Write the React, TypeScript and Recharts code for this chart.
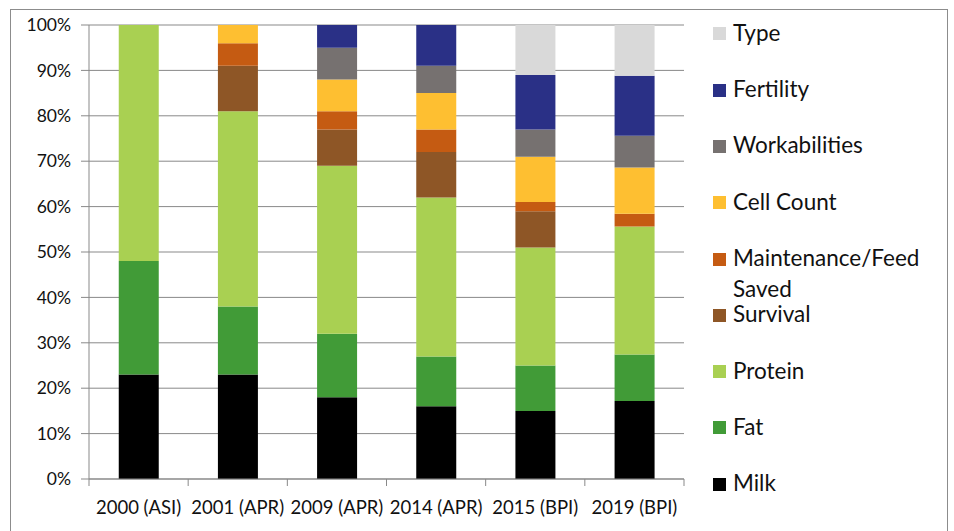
import React from "react";
import { BarChart, Bar, XAxis, YAxis, CartesianGrid } from "recharts";

const categories = ["2000 (ASI)", "2001 (APR)", "2009 (APR)", "2014 (APR)", "2015 (BPI)", "2019 (BPI)"];
const milk = [23, 23, 18, 16, 15, 17.2];
const fat = [25, 15, 14, 11, 10, 10.2];
const protein = [52, 43, 37, 35, 26, 28.2];
const survival = [0, 10, 8, 10, 8, 0];
const maintenance = [0, 5, 4, 5, 2, 2.8];
const cellCount = [0, 4, 7, 8, 10, 10.2];
const workabilities = [0, 0, 7, 6, 6, 7];
const fertility = [0, 0, 5, 9, 12, 13.2];
const typeTrait = [0, 0, 0, 0, 11, 11.2];
const yTicks = [0, 10, 20, 30, 40, 50, 60, 70, 80, 90, 100];

const series = [
  { key: "milk", name: "Milk", values: milk, color: "#000000" },
  { key: "fat", name: "Fat", values: fat, color: "#419B37" },
  { key: "protein", name: "Protein", values: protein, color: "#A9D052" },
  { key: "survival", name: "Survival", values: survival, color: "#8E5626" },
  { key: "maintenance", name: "Maintenance/Feed Saved", values: maintenance, color: "#C55B12" },
  { key: "cellCount", name: "Cell Count", values: cellCount, color: "#FEBF31" },
  { key: "workabilities", name: "Workabilities", values: workabilities, color: "#767170" },
  { key: "fertility", name: "Fertility", values: fertility, color: "#2A3086" },
  { key: "type", name: "Type", values: typeTrait, color: "#D9D9D9" },
];

const data = categories.map((c, i) => {
  const row: any = { category: c };
  series.forEach((s) => (row[s.key] = s.values[i]));
  return row;
});

const W = 954;
const H = 531;
const M = { top: 25, right: 270, bottom: 12, left: 10 };
const YW = 79;
const XH = 40;
const plotW = W - M.left - M.right - YW;
const bandW = plotW / categories.length;
const FONT = "Lato, 'Open Sans', sans-serif";
const GRID = "#898989";
const TEXT = "#111111";

const XTick = (props: any) => {
  const { x, y, payload, index } = props;
  const left = x - bandW / 2;
  const right = x + bandW / 2;
  return (
    <g>
      <line x1={left} x2={left} y1={y} y2={y + 7} stroke={GRID} strokeWidth={1} />
      {index === categories.length - 1 && (
        <line x1={right} x2={right} y1={y} y2={y + 7} stroke={GRID} strokeWidth={1} />
      )}
      <text x={x} y={y + 28} textAnchor="middle" dominantBaseline="central" fontFamily={FONT} fontSize={18.5} fill={TEXT}>
        {payload.value}
      </text>
    </g>
  );
};

export default function App() {
  const legendItems = [...series].reverse();
  return (
    <div style={{ position: "absolute", left: 0, top: 0, width: W, height: H, overflow: "hidden", background: "#fff" }}>
      <div style={{ position: "absolute", left: 10, top: 9, width: 938, height: 540, border: "1px solid #8c8c8c", boxSizing: "border-box" }} />
      <div style={{ position: "absolute", left: 0, top: 0 }}>
        <BarChart width={W} height={H} data={data} margin={M} barCategoryGap="30%">
          <CartesianGrid vertical={false} stroke={GRID} strokeWidth={1} />
          <XAxis
            dataKey="category"
            height={XH}
            axisLine={{ stroke: GRID }}
            tickLine={false}
            tickSize={0}
            tickMargin={0}
            interval={0}
            tick={<XTick />}
          />
          <YAxis
            width={YW}
            domain={[0, 100]}
            ticks={yTicks}
            tickFormatter={(v: number) => `${v}%`}
            axisLine={{ stroke: GRID }}
            tickLine={{ stroke: GRID }}
            tickSize={8}
            tickMargin={10}
            interval={0}
            tick={{ fontFamily: FONT, fontSize: 17.5, fill: TEXT }}
          />
          {series.map((s) => (
            <Bar key={s.key} dataKey={s.key} name={s.name} stackId="a" fill={s.color} isAnimationActive={false} />
          ))}
        </BarChart>
      </div>
      {legendItems.map((s, i) => {
        const cy = 33.8 + i * 56.3;
        return (
          <div key={s.key}>
            <div style={{ position: "absolute", left: 713, top: cy - 6.5, width: 13, height: 13, background: s.color }} />
            <div
              style={{
                position: "absolute",
                left: 733,
                top: cy - 17,
                width: 212,
                fontFamily: FONT,
                fontSize: 22.5,
                lineHeight: "31px",
                color: TEXT,
                whiteSpace: "normal",
              }}
            >
              {s.name}
            </div>
          </div>
        );
      })}
    </div>
  );
}
